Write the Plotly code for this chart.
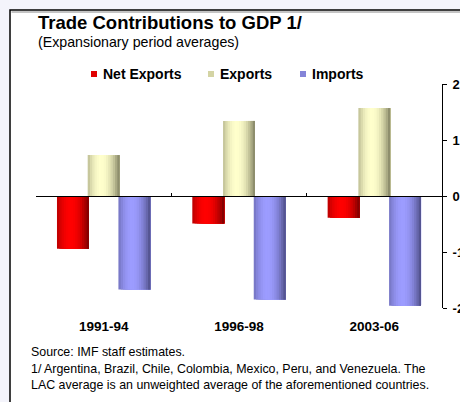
import plotly.graph_objects as go

# Expansionary period averages, percentage-point contributions to GDP growth
categories = ["1991-94", "1996-98", "2003-06"]
net_exports = [-0.94, -0.49, -0.39]
exports = [0.73, 1.34, 1.57]
imports = [-1.67, -1.85, -1.96]
y_ticks = [-2, -1, 0, 1, 2]

W, H = 460, 402
ML, MR, MT, MB = 36, 18, 84, 94
PW, PH = W - ML - MR, H - MT - MB
FONT = "Liberation Sans, Arial, sans-serif"


def px(x):
    return (x - ML) / PW


def py(y):
    return (H - MB - y) / PH


def mix(dark, bright, t):
    return "rgb({},{},{})".format(*[round(d + (b - d) * t) for d, b in zip(dark, bright)])


# (name, values, offset within category, dark edge colour, bright centre colour)
series = [
    ("Net Exports", net_exports, -0.345, (0x6c, 0x00, 0x00), (0xff, 0x00, 0x00)),
    ("Exports", exports, -0.118, (0x76, 0x76, 0x58), (0xff, 0xff, 0xcc)),
    ("Imports", imports, 0.109, (0x46, 0x46, 0x7a), (0x9c, 0x9c, 0xff)),
]
BAR_W = 0.236
STRIPS = 14

fig = go.Figure()

# Each bar is shaded like a cylinder: stacked strips, each running to the bar's right edge
for name, vals, off, dark, bright in series:
    step = BAR_W / STRIPS
    for k in range(STRIPS):
        u = (k + 0.5) / STRIPS
        t = max(0.0, 1 - ((u - 0.42) / 0.6) ** 2)
        fig.add_trace(go.Bar(
            x=categories, y=vals, name=name,
            offset=off + k * step, width=BAR_W - k * step,
            marker=dict(color=mix(dark, bright, t), line=dict(width=0)),
            showlegend=False, hoverinfo="skip" if k else "y+name",
        ))

# Carrier trace for the category axis drawn through zero
fig.add_trace(go.Scatter(x=categories, y=[0, 0, 0], xaxis="x2", mode="lines",
                         line=dict(width=0), opacity=0, showlegend=False,
                         hoverinfo="skip"))

fig.update_layout(
    width=W, height=H,
    margin=dict(l=ML, r=MR, t=MT, b=MB, autoexpand=False),
    paper_bgcolor="#f4f4fb",
    plot_bgcolor="white",
    barmode="overlay",
    font=dict(family=FONT, color="black"),
    xaxis=dict(type="category", range=[-0.5, 2.5], showline=False, ticks="",
               showgrid=False, zeroline=False, ticklabelstandoff=8, automargin=False,
               tickfont=dict(size=13.5, family=FONT, weight="bold")),
    xaxis2=dict(type="category", range=[-0.5, 2.5], overlaying="x", anchor="free",
                position=py(H - MB - PH / 2), side="bottom", showline=True,
                linecolor="black", linewidth=1.2, ticks="inside", ticklen=3,
                tickcolor="black", tickson="boundaries", showticklabels=False,
                showgrid=False, zeroline=False, automargin=False),
    yaxis=dict(side="right", range=[-2, 2], tickvals=y_ticks,
               ticktext=[str(v) for v in y_ticks], ticks="outside", ticklen=4,
               tickcolor="black", showline=True, linecolor="black", linewidth=1,
               showgrid=False, zeroline=False, automargin=False, ticklabelstandoff=3,
               tickfont=dict(size=13, family=FONT, weight="bold")),
    showlegend=False,
)

# Chart frame
fig.add_shape(type="rect", xref="paper", yref="paper", layer="below",
              x0=px(10), x1=px(475), y0=py(415), y1=py(10),
              fillcolor="white", line=dict(color="black", width=1.5))
fig.add_shape(type="line", xref="paper", yref="paper", layer="below",
              x0=px(11.5), x1=px(470), y0=py(12), y1=py(12),
              line=dict(color="#b0b0b0", width=1.5))

# Title block
fig.add_annotation(text="<b>Trade Contributions to GDP 1/</b>", xref="paper", yref="paper",
                   x=px(36), y=py(23), xanchor="left", yanchor="middle", showarrow=False,
                   font=dict(size=18.5, family=FONT))
fig.add_annotation(text="(Expansionary period averages)", xref="paper", yref="paper",
                   x=px(36), y=py(42), xanchor="left", yanchor="middle", showarrow=False,
                   font=dict(size=14.2, family=FONT))

# Legend
legend_items = [("Net Exports", 91, "#e00000"), ("Exports", 208, "#d4d4a4"),
                ("Imports", 300, "#8484d8")]
for label, x0, col in legend_items:
    fig.add_shape(type="rect", xref="paper", yref="paper",
                  x0=px(x0), x1=px(x0 + 6), y0=py(77), y1=py(71),
                  fillcolor=col, line=dict(width=0))
    fig.add_annotation(text="<b>" + label + "</b>", xref="paper", yref="paper",
                       x=px(x0 + 10), y=py(74), xanchor="left", yanchor="middle",
                       showarrow=False, font=dict(size=14, family=FONT))

# Source notes
notes = [
    ("Source: IMF staff estimates.", 352),
    ("1/ Argentina, Brazil, Chile, Colombia, Mexico, Peru, and Venezuela. The", 369),
    ("LAC average is an unweighted average of the aforementioned countries.", 385),
]
for text, yc in notes:
    fig.add_annotation(text=text, xref="paper", yref="paper", x=px(29), y=py(yc),
                       xanchor="left", yanchor="middle", showarrow=False,
                       font=dict(size=12.4, family=FONT))

fig.write_html("out.html")
